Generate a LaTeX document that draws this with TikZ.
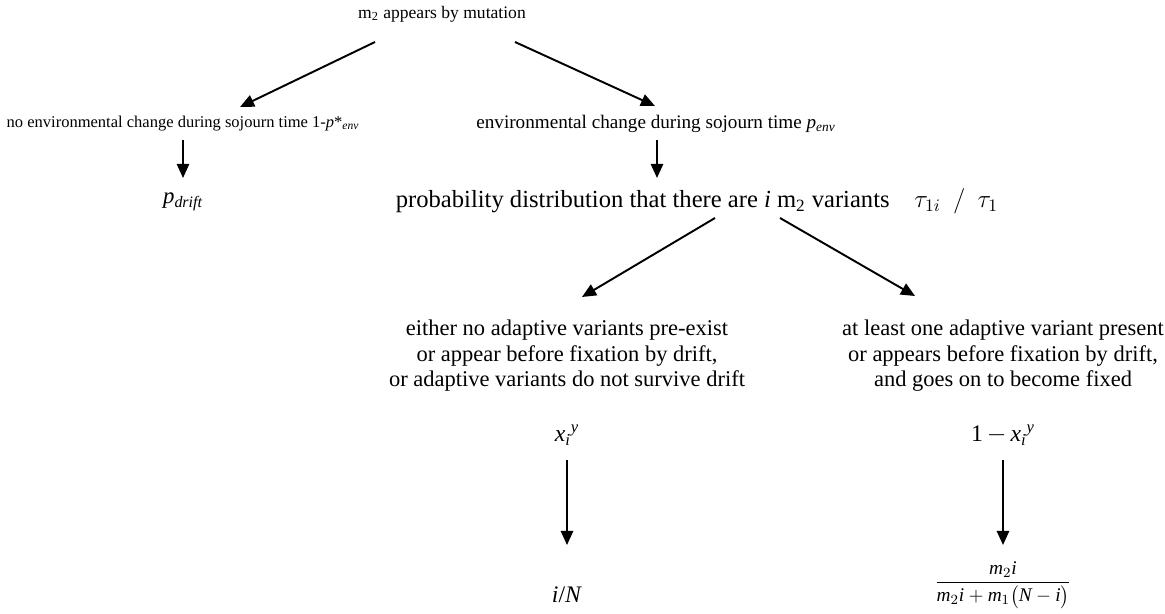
\documentclass[tikz,border=0pt]{standalone}
\usepackage{amsmath}
\usepackage{fontspec}
\setmainfont{Liberation Serif}
\usetikzlibrary{calc,arrows.meta}
\newcommand{\vr}[1]{\textit{#1}}
\newcommand{\fsz}[1]{\fontsize{#1}{14.5}\selectfont}

\begin{document}
\begin{tikzpicture}[x=0.02cm, y=-0.02cm,
		txt/.style={inner sep=1pt, align=center},
		arr/.style={line width=1.1pt, -{Triangle[length=8pt, width=7pt]}}]
		%%%%% START %%%%%
		
		\useasboundingbox (0, 0) rectangle (1165, 614);
		
		\node[txt, font=\fsz{10}] (mut) at (442, 14) {m\textsubscript{2} appears by mutation};
		
		\node[txt, font=\fsz{9.4}] (noenv) at (183, 124) {no environmental change during sojourn time 1-\vr{p}*$_{\vr{env}}$};
		\node[txt, font=\fsz{10.9}] (env) at (656, 124) {environmental change during sojourn time \vr{p}$_{\vr{env}}$};
		
		\draw[arr] ($(mut.center)+(-67, 28)$) -- ($(noenv.center)+(57, -17)$);
		\draw[arr] ($(mut.center)+(73, 28)$) -- ($(env.center)+(-1, -18)$);
		
		\node[txt, font=\fsz{13}] (drift) at (183, 202) {\vr{p}$_{\vr{drift}}$};
		\draw[arr] ($(noenv.center)+(0, 16)$) -- ($(drift.center)+(0, -24)$);
		
		\node[txt, font=\fsz{14}] (dist) at (697, 201) {probability distribution that there are \vr{i} m\textsubscript{2} variants\quad $\tau_{1i}\enspace/\enspace\tau_1$};
		\draw[arr] ($(env.center)+(1, 16)$) -- ($(dist.center)+(-40, -23)$);
		
		\node[txt, font=\fsz{12.8}] (none) at (567, 356) {either no adaptive variants pre-exist\\or appear before fixation by drift,\\or adaptive variants do not survive drift};
		\node[txt, font=\fsz{12.8}] (one) at (1003, 356) {at least one adaptive variant present\\or appears before fixation by drift,\\and goes on to become fixed};
		
		\draw[arr] ($(dist.center)+(18, 17)$) -- ($(none.center)+(15, -59)$);
		\draw[arr] ($(dist.center)+(83, 17)$) -- ($(one.center)+(-88, -60)$);
		
		\node[txt, font=\fsz{13.5}] (px) at (567, 435) {\vr{x}$_{\vr{i}}{}^{\vr{y}}$};
		\node[txt, font=\fsz{13.5}] (qx) at (1003, 435) {1\,$-$\,\vr{x}$_{\vr{i}}{}^{\vr{y}}$};
		
		\node[txt, font=\fsz{13.5}] (iN) at (567, 595) {\vr{i}/\vr{N}};
		\node[txt, font=\fsz{11}] (frac) at (1003, 585) {$\dfrac{\vr{m}_2\vr{i}}{\vr{m}_2\vr{i}+\vr{m}_1\bigl(\vr{N}-\vr{i}\bigr)}$};
		
		\draw[arr] ($(px.center)+(0, 25)$) -- ($(iN.center)+(0, -50)$);
		\draw[arr] ($(qx.center)+(0, 25)$) -- ($(frac.center)+(0, -40)$);
		
		%%%%% END %%%%%
	\end{tikzpicture}
\end{document}
